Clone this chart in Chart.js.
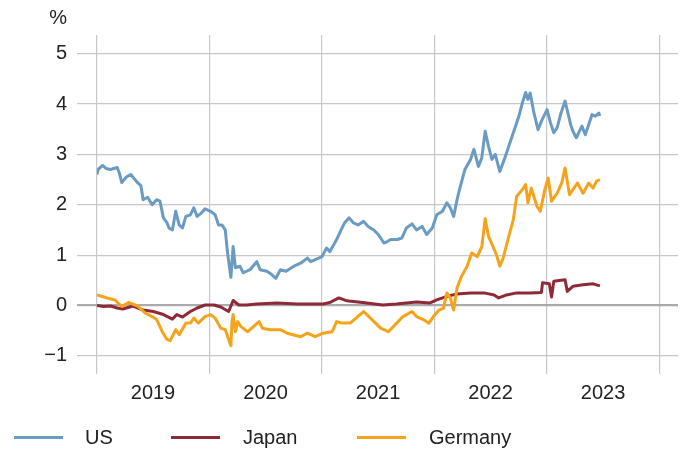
<!DOCTYPE html>
<html>
<head>
<meta charset="utf-8">
<script src="https://cdn.jsdelivr.net/npm/chart.js@4/dist/chart.umd.min.js"></script>
<style>
  html, body { margin: 0; padding: 0; background: #fff; }
  #wrap { position: relative; width: 686px; height: 450px; }
  canvas { display: block; }
  .lg { position: absolute; top: 425px; height: 24px; font: 20px "Liberation Sans", Arial, sans-serif; color: #222; line-height: 24px; white-space: nowrap; }
  .lg i { position: absolute; top: 11px; height: 3px; width: 49px; }
  .lg span { position: absolute; top: 0; }
</style>
</head>
<body>
<div id="wrap">
  <canvas id="c" width="686" height="450"></canvas>
  <div id="legend"></div>
</div>
<script>
// ---- data (x in decimal years, values in %) ----
const seriesNames = ['US', 'Japan', 'Germany'];
const seriesColors = ['#6a9bc3', '#8e2a37', '#f6a31c'];

const usDates = [2019.00,2019.01,2019.05,2019.08,2019.12,2019.15,2019.18,2019.20,2019.22,2019.26,2019.30,2019.36,2019.39,2019.41,2019.45,2019.49,2019.53,2019.56,2019.59,2019.62,2019.64,2019.67,2019.70,2019.73,2019.76,2019.79,2019.83,2019.86,2019.89,2019.93,2019.96,2020.01,2020.05,2020.08,2020.11,2020.14,2020.16,2020.19,2020.21,2020.23,2020.27,2020.30,2020.36,2020.42,2020.45,2020.51,2020.55,2020.59,2020.63,2020.68,2020.75,2020.81,2020.87,2020.90,2020.95,2021.00,2021.04,
  2021.07,2021.13,2021.17,2021.20,2021.24,2021.28,2021.32,2021.37,2021.41,2021.46,2021.50,2021.55,2021.58,2021.61,2021.67,2021.71,2021.75,2021.80,2021.84,2021.89,2021.93,2021.98,2022.02,2022.07,
  2022.11,2022.14,2022.17,2022.20,2022.23,2022.27,2022.32,2022.35,2022.39,2022.42,2022.45,2022.48,2022.51,2022.54,2022.58,2022.63,2022.67,2022.72,2022.75,2022.78,2022.81,2022.83,2022.85,2022.88,2022.92,2022.95,2023.00,2023.03,2023.06,2023.09,2023.12,2023.16,2023.21,2023.23,2023.26,2023.31,2023.34,2023.37,2023.40,2023.43,2023.46,2023.47];
const usValues = [2.60,2.70,2.78,2.72,2.70,2.72,2.74,2.62,2.44,2.55,2.60,2.44,2.38,2.10,2.15,2.00,2.10,2.07,1.74,1.65,1.54,1.50,1.87,1.60,1.54,1.77,1.80,1.94,1.77,1.84,1.92,1.87,1.80,1.60,1.60,1.50,1.05,0.56,1.17,0.75,0.78,0.65,0.71,0.87,0.71,0.68,0.62,0.54,0.71,0.68,0.78,0.84,0.94,0.87,0.92,0.97,1.14,
  1.07,1.31,1.50,1.64,1.74,1.64,1.60,1.67,1.57,1.50,1.41,1.24,1.27,1.31,1.31,1.34,1.54,1.62,1.50,1.57,1.41,1.54,1.80,1.87,
  2.04,1.94,1.77,2.10,2.37,2.70,2.90,3.10,2.76,2.93,3.46,3.16,2.90,3.00,2.66,2.96,3.23,3.56,3.76,4.02,4.23,4.09,4.22,3.86,3.49,3.66,3.89,3.63,3.43,3.53,3.79,4.06,3.59,3.46,3.33,3.56,3.39,3.59,3.79,3.76,3.82,3.76];

const jpDates = [2019.00,2019.06,2019.12,2019.18,2019.23,2019.32,2019.41,2019.50,2019.59,2019.67,2019.71,2019.76,2019.83,2019.89,2019.96,2020.04,2020.10,2020.17,2020.21,2020.26,2020.33,2020.42,2020.60,2020.78,2021.01,2021.07,2021.15,2021.21,2021.24,2021.36,2021.54,2021.66,2021.84,2021.96,2022.02,2022.11,2022.20,2022.32,2022.44,2022.53,2022.57,2022.64,2022.73,2022.85,2022.95,2022.96,2023.02,2023.04,2023.06,2023.16,2023.18,2023.23,2023.32,2023.41,2023.47];
const jpValues = [0.00,-0.02,-0.01,-0.05,-0.07,-0.01,-0.09,-0.12,-0.18,-0.27,-0.18,-0.23,-0.12,-0.05,0.01,0.01,-0.03,-0.12,0.10,0.01,0.01,0.03,0.05,0.03,0.03,0.06,0.15,0.10,0.09,0.06,0.01,0.03,0.07,0.05,0.11,0.18,0.23,0.25,0.25,0.21,0.15,0.21,0.25,0.25,0.26,0.45,0.43,0.17,0.48,0.51,0.28,0.38,0.41,0.43,0.39];

const deDates = [2019.00,2019.09,2019.16,2019.22,2019.28,2019.36,2019.43,2019.49,2019.53,2019.58,2019.62,2019.65,2019.70,2019.73,2019.79,2019.83,2019.86,2019.90,2019.96,
  2020.01,2020.05,2020.10,2020.14,2020.19,2020.20,2020.21,2020.23,2020.25,2020.28,2020.34,2020.39,2020.44,2020.47,2020.54,2020.63,2020.69,2020.81,2020.87,2020.94,2021.01,2021.09,2021.13,2021.18,2021.25,
  2021.37,2021.43,2021.52,2021.59,2021.65,2021.72,2021.80,2021.84,2021.90,2021.95,2021.99,2022.04,2022.08,2022.11,2022.14,2022.17,2022.20,2022.24,2022.29,2022.33,2022.38,2022.42,2022.45,2022.48,2022.52,2022.55,2022.58,2022.61,2022.66,2022.70,2022.73,2022.78,2022.81,2022.83,2022.86,2022.91,2022.94,2022.98,2023.01,2023.04,2023.09,2023.13,2023.16,2023.20,2023.23,2023.27,2023.32,2023.37,2023.41,2023.44,2023.47];
const deValues = [0.21,0.15,0.11,-0.02,0.06,-0.01,-0.15,-0.22,-0.28,-0.52,-0.67,-0.70,-0.48,-0.58,-0.35,-0.35,-0.25,-0.35,-0.22,
  -0.18,-0.25,-0.45,-0.48,-0.80,-0.32,-0.18,-0.52,-0.32,-0.42,-0.52,-0.42,-0.32,-0.45,-0.48,-0.48,-0.55,-0.62,-0.55,-0.62,-0.55,-0.52,-0.32,-0.35,-0.35,
  -0.12,-0.25,-0.45,-0.52,-0.38,-0.22,-0.12,-0.22,-0.28,-0.35,-0.22,-0.09,-0.05,0.25,0.15,-0.09,0.35,0.58,0.78,1.04,0.97,1.17,1.72,1.37,1.17,1.01,0.78,0.94,1.37,1.70,2.17,2.30,2.40,2.04,2.33,1.97,1.87,2.30,2.53,2.07,2.23,2.43,2.73,2.20,2.30,2.43,2.23,2.43,2.33,2.47,2.50];

const yearTicks = [2019, 2020, 2021, 2022, 2023, 2024];
const yTicks = [-1, 0, 1, 2, 3, 4, 5];
const yUnit = '%';

// ---- build ----
const FONT = '"Liberation Sans", Arial, sans-serif';
const TXT = '#222';
function pts(xs, ys) { return xs.map((x, i) => ({ x: x, y: ys[i] })); }
const allData = [pts(usDates, usValues), pts(jpDates, jpValues), pts(deDates, deValues)];

const unitPlugin = {
  id: 'unit',
  afterDraw(chart) {
    const ctx = chart.ctx;
    ctx.save();
    ctx.font = '20px ' + FONT;
    ctx.fillStyle = TXT;
    ctx.textAlign = 'right';
    ctx.textBaseline = 'middle';
    ctx.fillText(yUnit, 67, 18);
    ctx.restore();
  }
};

new Chart(document.getElementById('c'), {
  type: 'line',
  data: {
    datasets: seriesNames.map((n, i) => ({
      label: n,
      data: allData[i],
      borderColor: seriesColors[i],
      backgroundColor: seriesColors[i],
      borderWidth: 3,
      pointRadius: 0,
      tension: 0,
      fill: false,
      borderJoinStyle: 'round',
      order: [2, 3, 1][i]
    }))
  },
  options: {
    responsive: false,
    animation: false,
    layout: { padding: { top: 35, right: 8, left: 0, bottom: 0 } },
    plugins: { legend: { display: false }, tooltip: { enabled: false } },
    scales: {
      x: {
        type: 'linear',
        min: 2019,
        max: 2024.164,
        afterBuildTicks: s => { s.ticks = yearTicks.map(v => ({ value: v })); },
        afterFit: s => { s.height = 76; },
        border: { display: false },
        grid: { color: '#c8c8c8', lineWidth: 1.2, drawTicks: false },
        ticks: {
          autoSkip: false, maxRotation: 0, padding: 7, labelOffset: 56,
          color: TXT, font: { family: FONT, size: 20 },
          callback: v => (v < 2024 ? String(v) : '')
        }
      },
      y: {
        min: -1.36,
        max: 5.37,
        afterBuildTicks: s => { s.ticks = yTicks.map(v => ({ value: v })); },
        afterFit: s => { s.width = 97; },
        border: { display: false },
        grid: {
          color: c => (c.tick && c.tick.value === 0 ? '#ababab' : '#c8c8c8'),
          lineWidth: c => (c.tick && c.tick.value === 0 ? 2.2 : 1.2),
          drawTicks: true, tickLength: 20
        },
        ticks: {
          padding: 10, color: TXT, font: { family: FONT, size: 20 },
          callback: v => (v < 0 ? '\u2212' + Math.abs(v) : String(v))
        }
      }
    }
  },
  plugins: [unitPlugin]
});

// legend
const legendPos = [[14, 85], [171, 243], [357, 429]];
const lg = document.getElementById('legend');
seriesNames.forEach((n, i) => {
  const d = document.createElement('div');
  d.className = 'lg';
  d.style.left = legendPos[i][0] + 'px';
  d.innerHTML = '<i style="left:0;background:' + seriesColors[i] + '"></i><span style="left:' + (legendPos[i][1] - legendPos[i][0]) + 'px">' + n + '</span>';
  lg.appendChild(d);
});
</script>
</body>
</html>
